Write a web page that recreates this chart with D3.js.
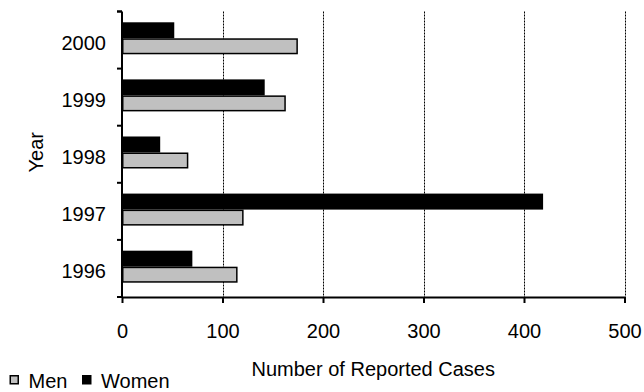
<!DOCTYPE html>
<html><head><meta charset="utf-8">
<script src="https://cdn.jsdelivr.net/npm/d3@7"></script>
<style>body{margin:0;background:#fff}svg{display:block}text{font-family:"Liberation Sans",Arial,sans-serif;fill:#000}</style>
</head><body>
<script>
(function(){
const years = ["1996","1997","1998","1999","2000"];
const men = [115, 121, 66, 163, 175];
const women = [70, 419, 38, 142, 52];
const xTicks = [0,100,200,300,400,500];
const seriesNames = ["Men","Women"];
const seriesColors = ["#c0c0c0","#000000"];

const W=644,H=392,FS=20;
const svg=d3.select("body").append("svg").attr("width",W).attr("height",H);
const pl=122,pr=624.5,pt=11.5,pb=297;
const x=d3.scaleLinear().domain([0,500]).range([pl,pr]);
const y=d3.scaleBand().domain(years.slice().reverse()).range([pt,pb]).paddingInner(0).paddingOuter(0);
const inner=d3.scaleBand().domain(["Women","Men"]).range([0,y.bandwidth()]).paddingOuter(0.784).paddingInner(0).align(0.43);

svg.append("g").selectAll("line").data(xTicks.filter(d=>d>0)).join("line")
  .attr("x1",d=>Math.round(x(d))+0.5).attr("x2",d=>Math.round(x(d))+0.5)
  .attr("y1",pt).attr("y2",pb)
  .attr("stroke","#000").attr("stroke-width",1).attr("stroke-dasharray","2,1");

const data=years.map((yr,i)=>({yr,Men:men[i],Women:women[i]}));
const g=svg.append("g");
data.forEach(d=>{
  g.append("rect").attr("x",x(0)).attr("y",y(d.yr)+inner("Women"))
   .attr("width",x(d.Women)-x(0)).attr("height",inner.bandwidth())
   .attr("fill",seriesColors[1]);
  g.append("rect").attr("x",x(0)+0.75).attr("y",y(d.yr)+inner("Men")+0.75)
   .attr("width",x(d.Men)-x(0)-1.5).attr("height",inner.bandwidth()-1.5)
   .attr("fill",seriesColors[0]).attr("stroke","#000").attr("stroke-width",1.5);
});

const xa=svg.append("g").attr("transform",`translate(0,${pb})`)
  .call(d3.axisBottom(x).tickValues(xTicks).tickSize(6).tickSizeOuter(0));
xa.select(".domain").attr("stroke-width",2);
xa.selectAll(".tick line").attr("stroke-width",2);
xa.selectAll("text").attr("font-size",FS).attr("font-family","Liberation Sans, Arial, sans-serif")
  .attr("y",41.3).attr("dy",0);

const ya=svg.append("g").attr("transform",`translate(${pl},0)`);
ya.append("line").attr("x1",0).attr("x2",0).attr("y1",pt).attr("y2",pb).attr("stroke","#000").attr("stroke-width",2);
const bounds=years.map(yr=>y(yr)).concat([pt,pb]);
ya.selectAll("line.tk").data(bounds).join("line").attr("class","tk")
  .attr("x1",-5).attr("x2",0).attr("y1",d=>d).attr("y2",d=>d).attr("stroke","#000").attr("stroke-width",2);
ya.selectAll("text").data(years).join("text")
  .attr("x",-16).attr("y",d=>y(d)+y.bandwidth()/2+9.5)
  .attr("text-anchor","end").attr("font-size",FS).text(d=>d);

svg.append("text").attr("transform",`translate(43,${(pt+pb)/2-2}) rotate(-90)`)
  .attr("text-anchor","middle").attr("font-size",FS).text("Year");
svg.append("text").attr("x",(pl+pr)/2).attr("y",376).attr("text-anchor","middle")
  .attr("font-size",FS).text("Number of Reported Cases");

const lg=svg.append("g");
const lx=[9.5,82];
seriesNames.forEach((n,i)=>{
  lg.append("rect").attr("x",lx[i]+0.75).attr("y",375.75).attr("width",8).attr("height",8)
    .attr("fill",seriesColors[i]).attr("stroke","#000").attr("stroke-width",1.5);
  lg.append("text").attr("x",lx[i]+19).attr("y",387.5).attr("font-size",FS).text(n);
});
})();
</script>
</body></html>
